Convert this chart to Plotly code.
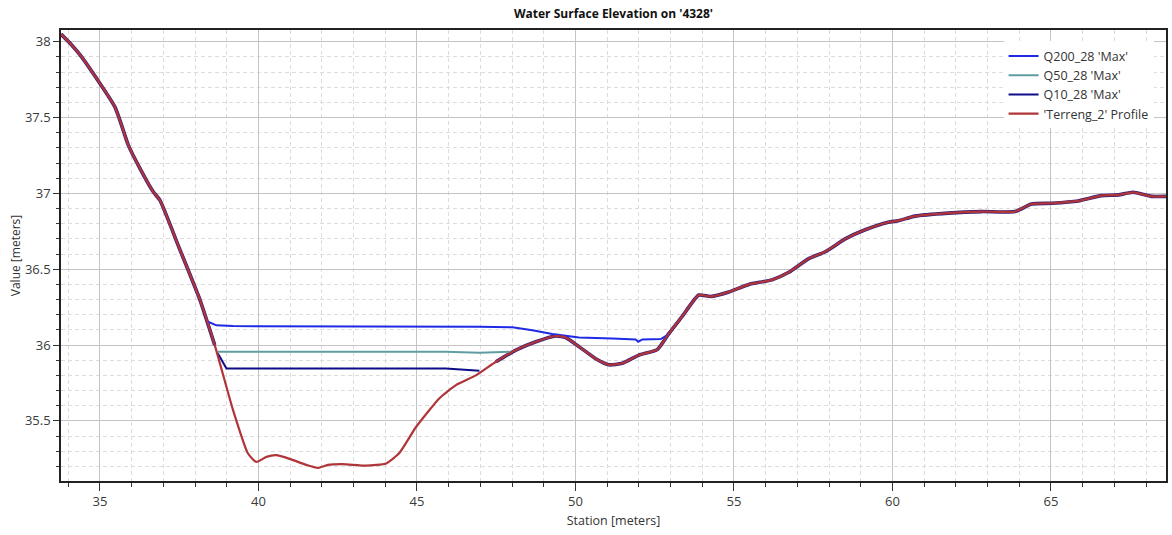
import numpy as np
import plotly.graph_objects as go

# ---------------- data ----------------
terrain_station = [33.77, 34.10, 34.42, 35.47, 35.89, 36.26, 36.68, 36.89, 37.50, 38.15,
                   38.62, 39.20, 39.67, 39.93, 40.25, 40.56, 40.98, 41.51, 41.87, 42.19,
                   42.66, 43.40, 44.03, 44.45, 44.97, 45.71, 46.23, 46.86, 47.49, 48.12,
                   48.75, 49.38, 49.69, 50.11, 50.64, 51.06, 51.48, 52.00, 52.58, 52.95,
                   53.37, 53.89, 54.26, 54.84, 55.47, 56.20, 56.73, 57.36, 57.88, 58.51,
                   59.14, 59.87, 60.19, 60.71, 61.76, 62.81, 63.86, 64.39, 65.02, 65.86,
                   66.59, 67.12, 67.59, 68.17, 68.64]
terrain_value = [38.05, 37.98, 37.90, 37.57, 37.32, 37.165, 37.01, 36.955, 36.64, 36.30,
                 36.00, 35.57, 35.285, 35.23, 35.263, 35.274, 35.25, 35.21, 35.19, 35.21,
                 35.215, 35.205, 35.22, 35.29, 35.46, 35.65, 35.736, 35.80, 35.89, 35.967,
                 36.022, 36.06, 36.05, 35.99, 35.91, 35.87, 35.88, 35.934, 35.97, 36.077,
                 36.19, 36.33, 36.32, 36.35, 36.40, 36.43, 36.48, 36.57, 36.615, 36.70,
                 36.76, 36.81, 36.82, 36.85, 36.87, 36.88, 36.88, 36.93, 36.935, 36.95,
                 36.985, 36.99, 37.007, 36.98, 36.98]

q200_station = [38.41, 38.67, 39.20, 42.77, 46.97, 48.01, 48.64, 49.27, 50.11, 51.16,
                51.90, 51.98, 52.11, 52.69, 52.95]
q200_value = [36.154, 36.13, 36.125, 36.125, 36.12, 36.117, 36.098, 36.073, 36.05, 36.044,
              36.037, 36.022, 36.037, 36.04, 36.073]

q50_station = [38.72, 45.91, 46.97, 48.03]
q50_value = [35.956, 35.956, 35.95, 35.956]

q10_station = [38.72, 38.99, 45.91, 46.97]
q10_value = [35.945, 35.846, 35.846, 35.83]

series_names = ["Q200_28 'Max'", "Q50_28 'Max'", "Q10_28 'Max'", "'Terreng_2' Profile"]

# ---------------- style ----------------
C_Q200 = "#1f2ae6"
C_Q50 = "#5f9ea0"
C_Q10 = "#0d0d8a"
C_TER = "#b03539"
FONT = "Open Sans"
GRID_DASH = "4px,3px"

fig = go.Figure()

# water lines follow the ground where dry (seen as dark fringe under the terrain line)
ts = np.array(terrain_station)
tv = np.array(terrain_value, dtype=float)
under = np.where((ts > 38.7) & (ts < 46.9), np.nan, tv)
fig.add_trace(go.Scatter(x=ts, y=under, mode="lines", showlegend=False, hoverinfo="skip",
                         line=dict(color="#3a1f78", width=3.6, shape="spline", smoothing=0.5),
                         connectgaps=False))

fig.add_trace(go.Scatter(x=q200_station, y=q200_value, mode="lines", name=series_names[0],
                         line=dict(color=C_Q200, width=2)))
fig.add_trace(go.Scatter(x=q50_station, y=q50_value, mode="lines", name=series_names[1],
                         line=dict(color=C_Q50, width=2)))
fig.add_trace(go.Scatter(x=q10_station, y=q10_value, mode="lines", name=series_names[2],
                         line=dict(color=C_Q10, width=2)))
fig.add_trace(go.Scatter(x=terrain_station, y=terrain_value, mode="lines", name=series_names[3],
                         line=dict(color=C_TER, width=2.2, shape="spline", smoothing=0.5)))

axis_common = dict(
    showline=True, linecolor="#222222", linewidth=1.5, mirror=True,
    ticks="outside", tickcolor="#333333", zeroline=False,
    showgrid=True, gridcolor="#c4c4c4", gridwidth=1,
    tickfont=dict(family=FONT, size=13, color="#3a3a3a"),
)

fig.update_layout(
    width=1172, height=535,
    margin=dict(l=61, r=4, t=30, b=54),
    paper_bgcolor="white", plot_bgcolor="white",
    font=dict(family=FONT, size=12, color="#333333"),
    title=dict(text="<b>Water Surface Elevation on '4328'</b>", xref="paper", x=0.5,
               xanchor="center", yref="container", y=1 - 14 / 535, yanchor="middle",
               font=dict(family=FONT, size=12, color="#111111")),
    legend=dict(x=0.853, y=0.975, xanchor="left", yanchor="top", bgcolor="white",
                borderwidth=0, font=dict(family=FONT, size=12.5, color="#333333"),
                itemwidth=30, tracegroupgap=0),
    xaxis=dict(range=[33.77, 68.63], tickmode="linear", tick0=0, dtick=5, ticklen=8,
               title=dict(text="Station [meters]", font=dict(family=FONT, size=12.5, color="#333333"),
                          standoff=7),
               minor=dict(tickmode="linear", tick0=0, dtick=1, ticks="outside", ticklen=4,
                          tickcolor="#333333", showgrid=True, gridcolor="#dcdcdc",
                          griddash=GRID_DASH, gridwidth=1),
               **axis_common),
    yaxis=dict(range=[35.104, 38.077], tickmode="linear", tick0=0, dtick=0.5, ticklen=6,
               title=dict(text="Value [meters]", font=dict(family=FONT, size=12, color="#333333"),
                          standoff=2),
               minor=dict(tickmode="linear", tick0=0, dtick=0.1, ticks="outside", ticklen=3,
                          tickcolor="#333333", showgrid=True, gridcolor="#dcdcdc",
                          griddash=GRID_DASH, gridwidth=1),
               **axis_common),
)

fig.write_html("out.html")
